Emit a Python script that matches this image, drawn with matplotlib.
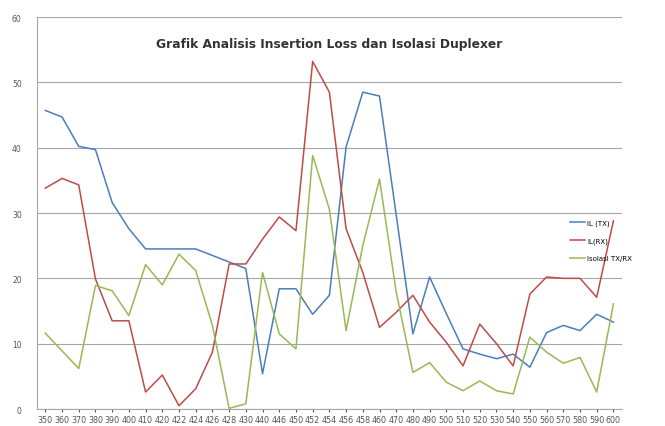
import matplotlib
matplotlib.use("Agg")
import matplotlib.pyplot as plt

# frekuensi (MHz)
freq = ['350', '360', '370', '380', '390', '400', '410', '420', '422', '424',
        '426', '428', '430', '440', '446', '450', '452', '454', '456', '458',
        '460', '470', '480', '490', '500', '510', '520', '530', '540', '550',
        '560', '570', '580', '590', '600']

il_tx = [45.7, 44.7, 40.2, 39.7, 31.6, 27.6, 24.5, 24.5, 24.5, 24.5,
         23.5, 22.5, 21.5, 5.4, 18.4, 18.4, 14.5, 17.4, 40.1, 48.5,
         47.9, 29.7, 11.5, 20.2, 14.6, 9.2, 8.4, 7.7, 8.4, 6.4,
         11.7, 12.8, 12.0, 14.5, 13.3]

il_rx = [33.8, 35.3, 34.3, 19.9, 13.5, 13.5, 2.6, 5.2, 0.5, 3.1,
         8.7, 22.2, 22.2, 26.0, 29.4, 27.3, 53.2, 48.5, 27.6, 20.9,
         12.5, 14.8, 17.4, 13.3, 10.2, 6.6, 13.0, 10.0, 6.6, 17.6,
         20.2, 20.0, 20.0, 17.1, 28.8]

isolasi = [11.6, 8.9, 6.2, 18.9, 18.1, 14.3, 22.1, 19.0, 23.7, 21.2,
           12.8, 0.1, 0.8, 20.9, 11.5, 9.2, 38.8, 30.6, 12.0, 25.0,
           35.2, 17.9, 5.6, 7.1, 4.1, 2.8, 4.3, 2.8, 2.3, 11.0,
           8.7, 7.0, 7.9, 2.6, 16.1]

fig = plt.figure(figsize=(6.65, 4.27), dpi=100)
ax = fig.add_axes([0.0556, 0.0398, 0.8794, 0.918])

x = range(len(freq))
ax.plot(x, il_tx, color='#4A7EBB', lw=1.1, label='IL (TX)')
ax.plot(x, il_rx, color='#BE4B48', lw=1.1, label='IL(RX)')
ax.plot(x, isolasi, color='#98B954', lw=1.1, label='Isolasi TX/RX')

ax.set_xlim(-0.5, len(freq) - 0.5)
ax.set_ylim(0, 60)
ax.set_yticks(range(0, 61, 10))
ax.set_xticks(list(x))
ax.set_xticklabels(freq)
ax.tick_params(axis='x', labelsize=5.8, length=2, pad=2, colors='#555555')
ax.tick_params(axis='y', labelsize=5.5, length=0, pad=11, colors='#555555')

ax.grid(axis='y', color='#a6a6a6', lw=0.8)
ax.set_axisbelow(True)
for s in ['top', 'right']:
    ax.spines[s].set_visible(False)
for s in ['left', 'bottom']:
    ax.spines[s].set_color('#a6a6a6')

ax.text(0.5, 0.932, 'Grafik Analisis Insertion Loss dan Isolasi Duplexer',
        transform=ax.transAxes, ha='center', va='center',
        fontsize=8.8, fontweight='bold', color='#333333')

ax.legend(loc='center left', bbox_to_anchor=(0.9, 0.43), frameon=False,
          fontsize=5, handlelength=2.2, handletextpad=0.3, labelspacing=1.6)

fig.savefig('out.png', dpi=100)
